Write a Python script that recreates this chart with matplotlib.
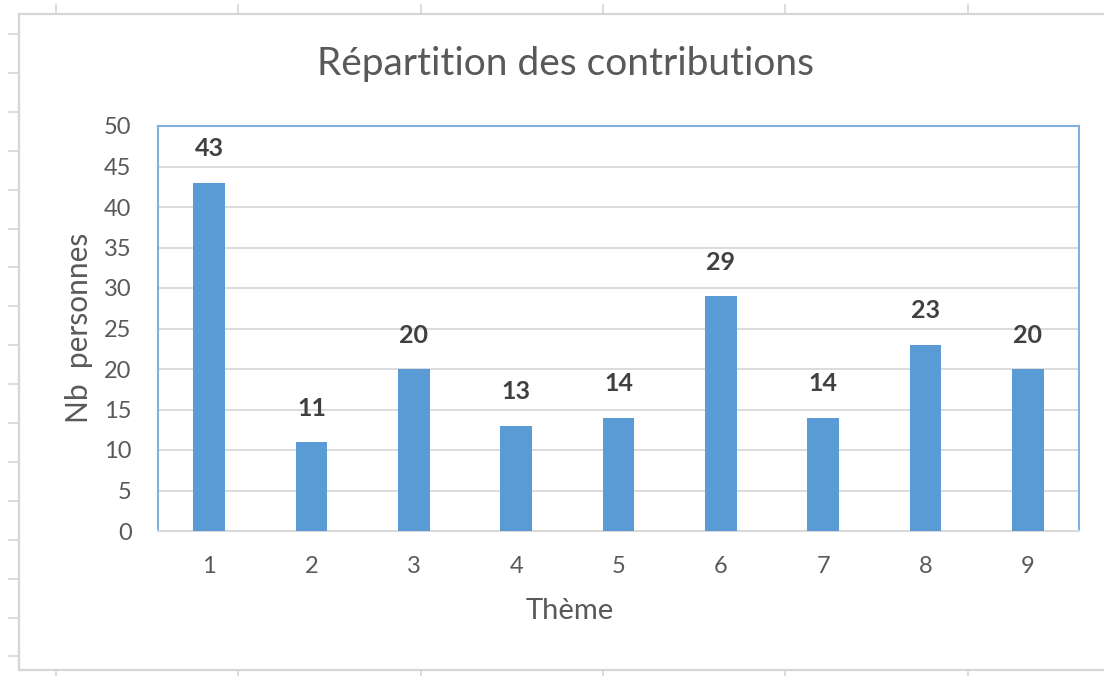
import matplotlib
matplotlib.use("Agg")
import matplotlib.pyplot as plt
from matplotlib.lines import Line2D

themes = ["1", "2", "3", "4", "5", "6", "7", "8", "9"]
counts = [43, 11, 20, 13, 14, 29, 14, 23, 20]
y_ticks = [0, 5, 10, 15, 20, 25, 30, 35, 40, 45, 50]

title = "Répartition des contributions"
xlabel = "Thème"
ylabel = "Nb  personnes"

plt.rcParams['font.family'] = ['Lato', 'DejaVu Sans']
TXT = "#595959"
BAR = "#5B9BD5"
GRID = "#D9D9D9"
SHEET = "#D6D6D6"

W, H = 1104, 676
fig = plt.figure(figsize=(W / 100, H / 100), dpi=100)
fig.patch.set_facecolor("white")

def fx(px):
    return px / W

def fy(py):
    return 1 - py / H

# spreadsheet frame around the chart object
fig.add_artist(Line2D([fx(19), fx(19)], [fy(14), fy(670)], color=SHEET, lw=1.6))
fig.add_artist(Line2D([fx(19), fx(1104)], [fy(14), fy(14)], color=SHEET, lw=1.6))
fig.add_artist(Line2D([fx(19), fx(1104)], [fy(670), fy(670)], color=SHEET, lw=1.6))
for i in range(17):
    yy = 34 + i * 38.9
    if yy < 668:
        fig.add_artist(Line2D([fx(9), fx(19)], [fy(yy), fy(yy)], color=SHEET, lw=1.2))
for i in range(6):
    xx = 56 + i * 182.3
    fig.add_artist(Line2D([fx(xx), fx(xx)], [fy(5), fy(14)], color=SHEET, lw=1.2))
    fig.add_artist(Line2D([fx(xx), fx(xx)], [fy(670), fy(676)], color=SHEET, lw=1.2))

ax = fig.add_axes([158 / W, 1 - 531 / H, (1079 - 158) / W, (531 - 126) / H])
x = list(range(len(themes)))
ax.bar(x, counts, width=0.31, color=BAR, zorder=3)
ax.set_xlim(-0.5, len(themes) - 0.5)
ax.set_ylim(0, 50)
ax.set_yticks(y_ticks)
ax.set_xticks(x)
ax.set_xticklabels(themes)
ax.grid(axis="y", color=GRID, lw=1.3, zorder=0)
ax.tick_params(axis="both", length=0, colors=TXT, labelsize=17)
ax.tick_params(axis="y", pad=19)
ax.tick_params(axis="x", pad=18)
for side in ["left", "top", "right"]:
    ax.spines[side].set_color("#7FB0DE")
    ax.spines[side].set_linewidth(1.5)
ax.spines["bottom"].set_color(GRID)
ax.spines["bottom"].set_linewidth(1.5)

for xi, v in zip(x, counts):
    ax.annotate(str(v), (xi, v), xytext=(0, 16), textcoords="offset points",
                ha="center", va="bottom", fontsize=18, fontweight="bold", color="#404040")

fig.text(fx(566), fy(64), title, ha="center", va="center", fontsize=28, color=TXT)
fig.text(fx(570), fy(611), xlabel, ha="center", va="center", fontsize=21, color=TXT)
fig.text(fx(79), fy(328), ylabel, ha="center", va="center", fontsize=21.5, color=TXT, rotation=90)

fig.savefig("out.png", dpi=100)
